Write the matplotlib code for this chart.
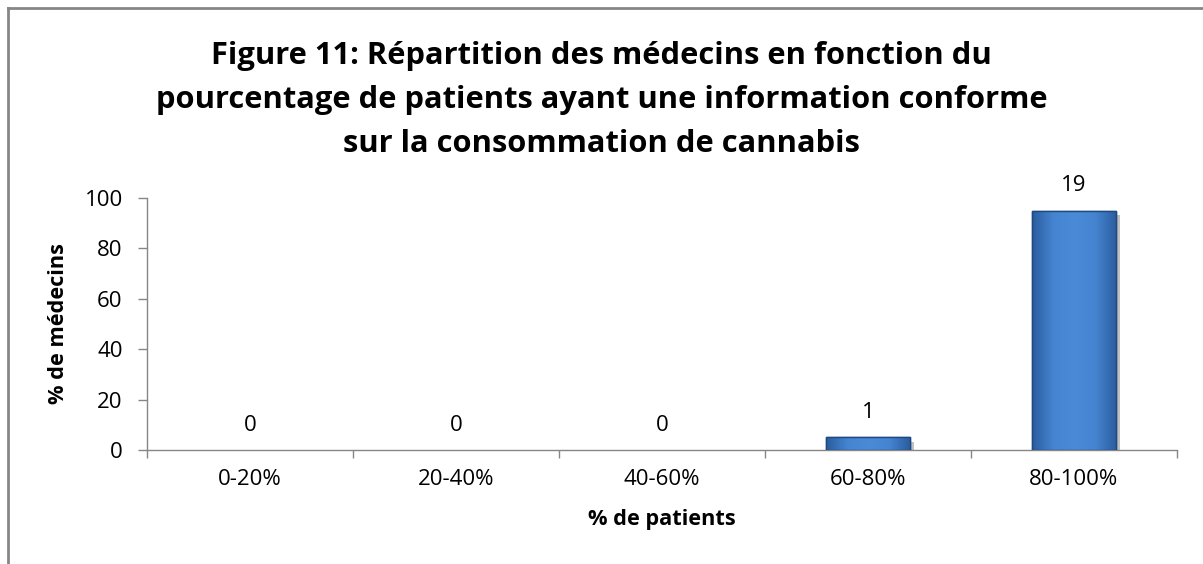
import matplotlib
matplotlib.use("Agg")
import matplotlib.pyplot as plt
import matplotlib.patheffects as pe
from matplotlib.lines import Line2D
from matplotlib.colors import LinearSegmentedColormap
import numpy as np

categories = ["0-20%", "20-40%", "40-60%", "60-80%", "80-100%"]
percent_values = [0, 0, 0, 5, 95]
count_labels = ["0", "0", "0", "1", "19"]
yticks = [0, 20, 40, 60, 80, 100]
title_lines = ["Figure 11: Répartition des médecins en fonction du",
               "pourcentage de patients ayant une information conforme",
               "sur la consommation de cannabis"]

plt.rcParams['font.family'] = ['Open Sans', 'DejaVu Sans']

fig = plt.figure(figsize=(12.03, 5.64), dpi=100)
ax = fig.add_axes([147/1203, 114/564, 1030/1203, 252/564])

x = list(range(len(categories)))
bars = ax.bar(x, percent_values, width=0.41, color='#3B76BF', edgecolor='#1F4A80', linewidth=1.0,
              zorder=3)
cmap = LinearSegmentedColormap.from_list('bev', ['#2A5C9E', '#4584D0', '#4A8AD6', '#4584D0', '#2A5C9E'])
grad = np.linspace(0, 1, 256).reshape(1, -1)
for b in bars:
    if b.get_height() > 0:
        b.set_path_effects([pe.SimplePatchShadow(offset=(3, -3), shadow_rgbFace='#777777', alpha=0.45),
                            pe.Normal()])
        im = ax.imshow(grad, cmap=cmap, aspect='auto', zorder=3.5,
                       extent=(b.get_x(), b.get_x() + b.get_width(), 0, b.get_height()))
        im.set_clip_path(b)
        ax.bar(b.get_x() + b.get_width() / 2, b.get_height(), width=b.get_width(),
               facecolor='none', edgecolor='#1F4A80', linewidth=1.0, zorder=4)
    else:
        b.set_linewidth(0)

for xi, v, lab in zip(x, percent_values, count_labels):
    ax.annotate(lab, (xi, v), xytext=(0, 14), textcoords='offset points', ha='center', va='baseline',
                fontsize=16, color='#000000')

ax.set_xlim(-0.5, len(categories) - 0.5)
ax.set_ylim(0, 100)
ax.set_yticks(yticks)
ax.set_yticklabels([str(t) for t in yticks], fontsize=16)
ax.set_xticks(x)
ax.set_xticklabels(categories, fontsize=16)
ax.tick_params(axis='x', length=0, pad=14)
ax.set_xticks([i - 0.5 for i in range(len(categories) + 1)], minor=True)
ax.tick_params(axis='x', which='minor', length=6, color='#868686', width=1)
ax.tick_params(axis='y', length=6.5, color='#868686', width=1, pad=11)
for s in ['top', 'right']:
    ax.spines[s].set_visible(False)
for s in ['left', 'bottom']:
    ax.spines[s].set_color('#868686')
    ax.spines[s].set_linewidth(1)

ax.set_xlabel('% de patients', fontsize=15.7, fontweight='bold', va='center')
ax.xaxis.set_label_coords(0.5, (450 - 520) / 252)
ax.set_ylabel('% de médecins', fontsize=15.7, fontweight='bold', va='center')
ax.yaxis.set_label_coords((59 - 147) / 1030, 0.5)

for line, base in zip(title_lines, [64, 108, 152]):
    fig.text(0.5, 1 - base/564, line, ha='center', va='baseline', fontsize=22.2, fontweight='bold')

# figure border (left and top visible)
fig.add_artist(Line2D([8/1203, 8/1203], [0, 1 - 8/564], transform=fig.transFigure, color='#868686', lw=2))
fig.add_artist(Line2D([8/1203, 1], [1 - 8/564, 1 - 8/564], transform=fig.transFigure, color='#868686', lw=2))

fig.savefig("out.png", dpi=100)
